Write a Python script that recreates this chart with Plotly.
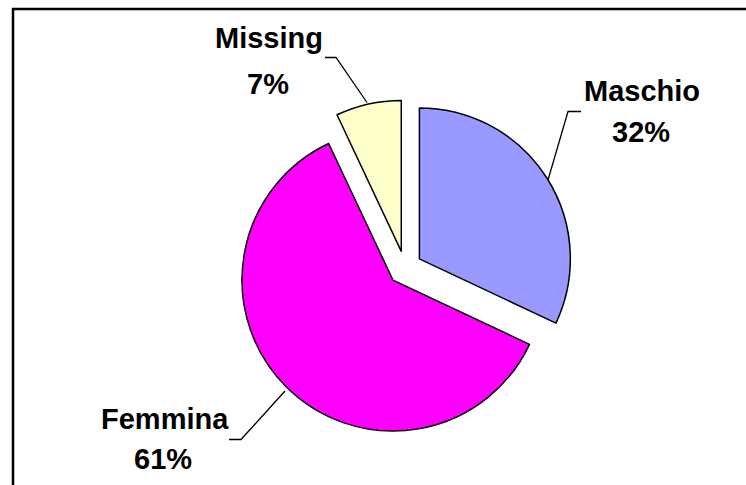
import plotly.graph_objects as go

# Data
labels = ["Maschio", "Femmina", "Missing"]
values = [32, 61, 7]
colors = ["#9999FF", "#FF00FF", "#FFFFCC"]
pulls = [0.113, 0.113, 0.113]

W, H = 746, 485

def px(x):
    return x / W

def py(y):
    return 1 - y / H

total = sum(values)
pct = [f"{round(v * 100 / total)}%" for v in values]

fig = go.Figure(go.Pie(
    labels=labels,
    values=values,
    sort=False,
    direction="clockwise",
    rotation=0,
    pull=pulls,
    marker=dict(colors=colors, line=dict(color="black", width=1.5)),
    textinfo="none",
    hoverinfo="skip",
    showlegend=False,
    domain=dict(x=[px(405 - 168), px(405 + 168)], y=[py(268 + 168), py(268 - 168)]),
))

# label layout positions (pixel centres): name line, percent line
label_pos = {
    "Maschio": ((642, 91), (641, 132)),
    "Femmina": ((165, 419), (163, 459)),
    "Missing": ((269, 38), (268, 84)),
}
leaders = {
    "Maschio": [(581, 111.5), (568, 111.5), (548, 180)],
    "Femmina": [(229, 439.5), (241, 439.5), (285, 391)],
    "Missing": [(325, 57.5), (336, 57.5), (367, 102.5)],
}

font = dict(family="Liberation Sans, Arial, sans-serif", size=29, color="black")
annotations = []
shapes = []
for lab, p in zip(labels, pct):
    (nx, ny), (qx, qy) = label_pos[lab]
    annotations.append(dict(x=px(nx), y=py(ny), xref="paper", yref="paper",
                            text=f"<b>{lab}</b>", showarrow=False, font=font,
                            xanchor="center", yanchor="middle"))
    annotations.append(dict(x=px(qx), y=py(qy), xref="paper", yref="paper",
                            text=f"<b>{p}</b>", showarrow=False, font=font,
                            xanchor="center", yanchor="middle"))
    pts = leaders[lab]
    path = "M " + " L ".join(f"{px(x):.5f},{py(y):.5f}" for x, y in pts)
    shapes.append(dict(type="path", path=path, xref="paper", yref="paper",
                       line=dict(color="black", width=1.3)))

# chart frame (left and top edges visible)
shapes.append(dict(type="path",
                   path=f"M {px(13):.5f},-0.1 L {px(13):.5f},{py(9):.5f} L 1.1,{py(9):.5f}",
                   xref="paper", yref="paper", line=dict(color="black", width=2.5)))

fig.update_layout(
    width=W, height=H,
    margin=dict(l=0, r=0, t=0, b=0),
    paper_bgcolor="white",
    plot_bgcolor="white",
    annotations=annotations,
    shapes=shapes,
)

fig.write_html("out.html",
               config={"displayModeBar": False},
               post_script="document.body.style.margin='0';document.body.style.overflow='hidden';")
